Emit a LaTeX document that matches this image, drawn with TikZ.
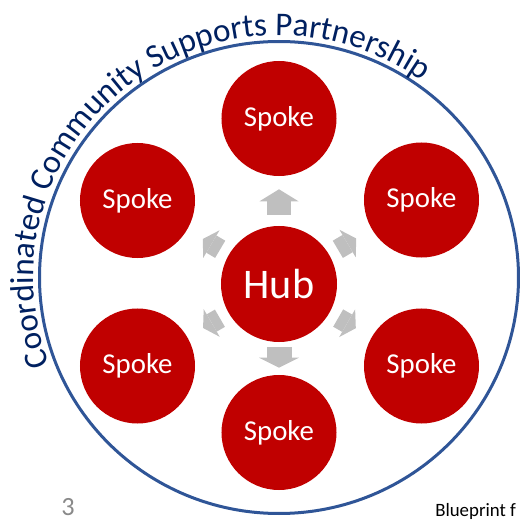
\documentclass[tikz,border=0pt]{standalone}
\usepackage{fontspec}
\setmainfont{Carlito}
\usepackage{xcolor}
\usepackage{tikz}
\usetikzlibrary{arrows.meta,decorations.text}

\definecolor{hubred}{HTML}{C00000}
\definecolor{ringblue}{HTML}{2F5597}
\definecolor{titlenavy}{HTML}{002060}
\definecolor{arrowgray}{HTML}{BFBFBF}
\definecolor{pagegray}{HTML}{898989}

\begin{document}
\begin{tikzpicture}[x=0.25mm,y=0.25mm,
    spoke/.style={circle,fill=hubred,minimum size=28.75mm,inner sep=0pt,text=white,
        font=\fontsize{20.5}{24}\selectfont},
    hubnode/.style={spoke,minimum size=29mm,font=\fontsize{30}{36}\selectfont},
    spokearrow/.style={draw=arrowgray,line width=6mm,shorten <=2.75mm,shorten >=3.25mm,
        -{Triangle[width=9.75mm,length=3mm,line width=0pt 0 0,fill=arrowgray]}},
    bottomarrow/.style={draw=arrowgray,line width=6.25mm,shorten <=1.25mm,shorten >=1.75mm,
        -{Triangle[width=10mm,length=2.5mm,line width=0pt 0 0,fill=arrowgray]}},
    diagarrow/.style={draw=arrowgray,line width=5mm,shorten <=2.5mm,shorten >=4.5mm,
        -{Triangle[width=8mm,length=2.5mm,line width=0pt 0 0,fill=arrowgray]}}]
    \useasboundingbox (0,0) rectangle (520,520);

    % Outer ring
    \draw[ringblue,line width=0.75mm] (279,242.5) ellipse [x radius=239.5,y radius=236];
    \path[decorate,decoration={text along path,text align=left,
        text={|\fontsize{23.6}{28}\selectfont\color{titlenavy}|Coordinated Community Supports Partnership}}]
        (279,242.5) ++(201:245.5 and 242) arc[start angle=201,end angle=50,x radius=245.5,y radius=242];

    % Hub and spokes
    \node[hubnode] (hub) at (279,236) {Hub};
    \node[spoke] (top) at (279,401.5) {Spoke};
    \node[spoke] (upleft) at (137.5,319.5) {Spoke};
    \node[spoke] (upright) at (421.5,320) {Spoke};
    \node[spoke] (lowleft) at (137.5,154) {Spoke};
    \node[spoke] (lowright) at (421.5,154) {Spoke};
    \node[spoke] (bottom) at (279,87.5) {Spoke};

    % Arrows
    \draw[spokearrow] (hub) -- (top);
    \draw[bottomarrow] (hub) -- (bottom);
    \draw[diagarrow] (hub) -- (upleft);
    \draw[diagarrow] (hub) -- (upright);
    \draw[diagarrow] (hub) -- (lowleft);
    \draw[diagarrow] (hub) -- (lowright);

    % Footer
    \node[anchor=base,inner sep=0pt,text=pagegray,font=\fontsize{18.7}{22}\selectfont] (pagenum) at (68,4.5) {3};
    \node[anchor=base west,inner sep=0pt,font=\fontsize{13.4}{16}\selectfont] (footer) at (435,3) {Blueprint f};
\end{tikzpicture}
\end{document}
